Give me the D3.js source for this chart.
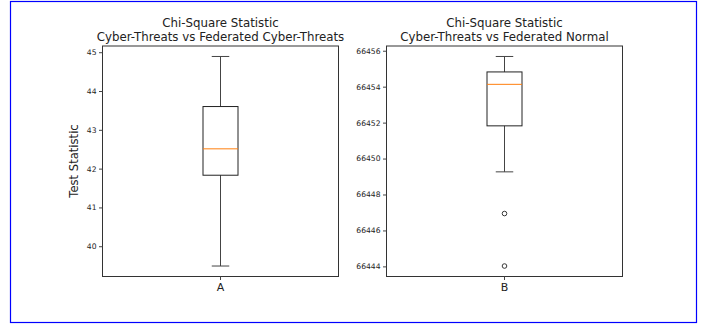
<!DOCTYPE html>
<html>
<head>
<meta charset="utf-8">
<script src="https://cdn.jsdelivr.net/npm/d3@7"></script>
<style>
  body { margin: 0; background: #fff; }
  text { font-family: "DejaVu Sans", sans-serif; fill: #222; }
</style>
</head>
<body>
<div id="chart"></div>
<script>
// box summaries
var panelTitles = [
  ["Chi-Square Statistic", "Cyber-Threats vs Federated Cyber-Threats"],
  ["Chi-Square Statistic", "Cyber-Threats vs Federated Normal"]
];
var groupLabels = ["A", "B"];
var whiskerLow = [39.49, 66449.26];
var q1 = [41.83, 66451.82];
var median = [42.51, 66454.13];
var q3 = [43.60, 66454.82];
var whiskerHigh = [44.89, 66455.68];
var outliers = [[], [66446.94, 66444.02]];
var yTicks = [
  [40, 41, 42, 43, 44, 45],
  [66444, 66446, 66448, 66450, 66452, 66454, 66456]
];

var width = 707, height = 326;
var svg = d3.select("#chart").append("svg")
  .attr("width", width).attr("height", height);

svg.append("rect")
  .attr("x", 10.5).attr("y", 1.5)
  .attr("width", 686).attr("height", 321)
  .attr("fill", "#fff").attr("stroke", "#0000ff").attr("stroke-width", 1.2);

var panels = [
  {left: 102.5, right: 338.5},
  {left: 386.5, right: 622.5}
];
var plotTop = 46, plotBottom = 276.5;

panels.forEach(function(p, i) {
  var g = svg.append("g");

  // matplotlib style 5% padding around data range
  var lo = d3.min([whiskerLow[i]].concat(outliers[i]));
  var hi = d3.max([whiskerHigh[i]].concat(outliers[i]));
  var pad = (hi - lo) * 0.05;
  var y = d3.scaleLinear().domain([lo - pad, hi + pad]).range([plotBottom, plotTop]);
  var x = d3.scaleBand().domain([groupLabels[i]]).range([p.left, p.right]);
  var cx = x(groupLabels[i]) + x.bandwidth() / 2;
  var boxW = 35;

  // axes frame
  g.append("rect")
    .attr("x", p.left).attr("y", plotTop)
    .attr("width", p.right - p.left).attr("height", plotBottom - plotTop)
    .attr("fill", "none").attr("stroke", "#333").attr("stroke-width", 1);

  var yAxis = d3.axisLeft(y).tickValues(yTicks[i]).tickSize(3.5).tickPadding(2.5)
    .tickFormat(d3.format("d"));
  var ya = g.append("g").attr("transform", "translate(" + p.left + ",0)").call(yAxis);
  ya.select(".domain").remove();
  ya.selectAll("line").attr("stroke", "#444");
  ya.selectAll("text").style("font-size", "7.6px").attr("fill", "#333");

  var xAxis = d3.axisBottom(x).tickSize(3.5).tickPadding(3);
  var xa = g.append("g").attr("transform", "translate(0," + plotBottom + ")").call(xAxis);
  xa.select(".domain").remove();
  xa.selectAll("line").attr("stroke", "#444");
  xa.selectAll("text").style("font-size", "11px").attr("fill", "#222");

  // whiskers
  g.append("line").attr("x1", cx).attr("x2", cx)
    .attr("y1", y(whiskerLow[i])).attr("y2", y(q1[i]))
    .attr("stroke", "#444").attr("stroke-width", 1);
  g.append("line").attr("x1", cx).attr("x2", cx)
    .attr("y1", y(q3[i])).attr("y2", y(whiskerHigh[i]))
    .attr("stroke", "#444").attr("stroke-width", 1);
  [whiskerLow[i], whiskerHigh[i]].forEach(function(v) {
    g.append("line").attr("x1", cx - boxW / 4).attr("x2", cx + boxW / 4)
      .attr("y1", y(v)).attr("y2", y(v))
      .attr("stroke", "#444").attr("stroke-width", 1);
  });

  // box
  g.append("rect")
    .attr("x", cx - boxW / 2).attr("y", y(q3[i]))
    .attr("width", boxW).attr("height", y(q1[i]) - y(q3[i]))
    .attr("fill", "none").attr("stroke", "#222").attr("stroke-width", 1);
  g.append("line")
    .attr("x1", cx - boxW / 2).attr("x2", cx + boxW / 2)
    .attr("y1", y(median[i])).attr("y2", y(median[i]))
    .attr("stroke", "#ff7f0e").attr("stroke-width", 1);

  // fliers
  g.selectAll(".flier").data(outliers[i]).enter()
    .append("circle")
    .attr("cx", cx).attr("cy", function(d) { return y(d); })
    .attr("r", 2.3)
    .attr("fill", "none").attr("stroke", "#222").attr("stroke-width", 0.9);

  // title
  var mid = (p.left + p.right) / 2;
  panelTitles[i].forEach(function(t, k) {
    g.append("text").attr("x", mid).attr("y", 27 + k * 13.5)
      .attr("text-anchor", "middle").style("font-size", "11.8px").text(t);
  });
});

svg.append("text")
  .attr("transform", "translate(78,161) rotate(-90)")
  .attr("text-anchor", "middle")
  .style("font-size", "11.6px")
  .text("Test Statistic");
</script>
</body>
</html>
